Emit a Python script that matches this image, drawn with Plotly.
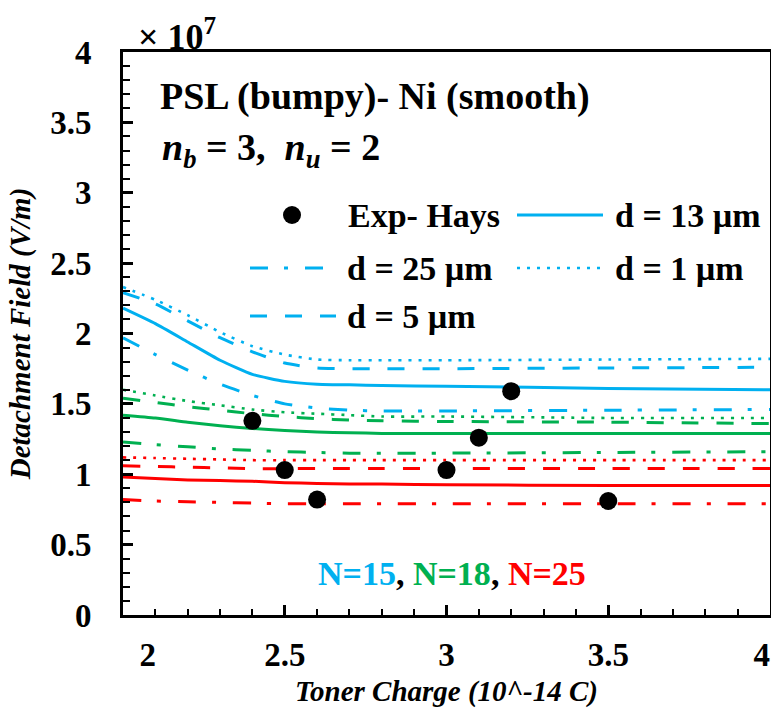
import plotly.graph_objects as go

# ---------------- data (field values in units of 10^7 V/m) ----------------
charge = [2.0, 2.1, 2.2, 2.3, 2.4, 2.5, 2.6, 2.7, 2.8, 3.0, 3.5, 4.0]

# N = 15 (blue)
n15_d13 = [2.18, 2.07, 1.94, 1.81, 1.71, 1.66, 1.64, 1.635, 1.63, 1.625, 1.61, 1.60]
n15_d25 = [1.97, 1.85, 1.74, 1.64, 1.56, 1.50, 1.47, 1.455, 1.45, 1.45, 1.455, 1.46]
n15_d1 = [2.33, 2.24, 2.13, 2.01, 1.91, 1.85, 1.815, 1.81, 1.81, 1.81, 1.815, 1.82]
n15_d5 = [2.29, 2.21, 2.09, 1.97, 1.87, 1.79, 1.755, 1.75, 1.75, 1.75, 1.755, 1.76]

# N = 18 (green)
n18_d13 = [1.42, 1.40, 1.37, 1.345, 1.325, 1.31, 1.30, 1.295, 1.29, 1.29, 1.29, 1.29]
n18_d25 = [1.23, 1.21, 1.195, 1.18, 1.17, 1.16, 1.155, 1.15, 1.15, 1.15, 1.155, 1.16]
n18_d1 = [1.60, 1.56, 1.52, 1.49, 1.46, 1.44, 1.43, 1.42, 1.41, 1.41, 1.40, 1.40]
n18_d5 = [1.54, 1.51, 1.48, 1.455, 1.43, 1.41, 1.395, 1.385, 1.38, 1.375, 1.37, 1.36]

# N = 25 (red)
n25_d13 = [0.98, 0.97, 0.96, 0.955, 0.95, 0.94, 0.935, 0.93, 0.93, 0.925, 0.92, 0.92]
n25_d25 = [0.82, 0.81, 0.805, 0.80, 0.795, 0.79, 0.79, 0.79, 0.79, 0.79, 0.79, 0.79]
n25_d1 = [1.12, 1.115, 1.11, 1.105, 1.10, 1.10, 1.10, 1.10, 1.10, 1.10, 1.10, 1.10]
n25_d5 = [1.06, 1.055, 1.05, 1.045, 1.04, 1.04, 1.04, 1.04, 1.04, 1.04, 1.04, 1.04]

# Experimental (Hays)
exp_charge = [2.4, 2.5, 2.6, 3.0, 3.1, 3.2, 3.5]
exp_field = [1.38, 1.03, 0.82, 1.03, 1.26, 1.59, 0.81]

x_ticks = [2, 2.5, 3, 3.5, 4]
x_tick_labels = ["2", "2.5", "3", "3.5", "4"]
y_ticks = [0, 0.5, 1, 1.5, 2, 2.5, 3, 3.5, 4]

# ---------------- styles ----------------
BLUE, GREEN, RED = "#00B0F0", "#00B050", "#FF0000"
DASH = {
    "d13": "solid",
    "d25": "18px,16px,4px,17px",
    "d1": "3px,7px",
    "d5": "17px,18px",
}
FONT = "Liberation Serif"
NB = "\u00a0"

W, H = 771, 718
L, R, T, B = 123, 1, 52, 103
PW, PH = W - L - R, H - T - B


def px(x):
    return (x - L) / PW


def py(y):
    return (H - B - y) / PH


fig = go.Figure()

groups = [
    (BLUE, {"d13": n15_d13, "d25": n15_d25, "d1": n15_d1, "d5": n15_d5}, "N=15"),
    (GREEN, {"d13": n18_d13, "d25": n18_d25, "d1": n18_d1, "d5": n18_d5}, "N=18"),
    (RED, {"d13": n25_d13, "d25": n25_d25, "d1": n25_d1, "d5": n25_d5}, "N=25"),
]
dlabel = {"d13": "d = 13 µm", "d25": "d = 25 µm", "d1": "d = 1 µm", "d5": "d = 5 µm"}
for color, series, nname in groups:
    for key, vals in series.items():
        fig.add_trace(go.Scatter(
            x=charge, y=vals, mode="lines",
            name=f"{dlabel[key]} ({nname})",
            line=dict(color=color, width=3 if key != "d1" else 2.6, dash=DASH[key],
                      shape="spline", smoothing=0.5),
            showlegend=False,
        ))

fig.add_trace(go.Scatter(
    x=exp_charge, y=exp_field, mode="markers", name="Exp- Hays",
    marker=dict(color="black", size=18), showlegend=False,
))

# ---------------- custom legend (layout elements) ----------------
shapes = []
annots = []
legend_rows = [
    # (symbol type, dash, x0, x1, y, label, text x)
    ("marker", None, 292, 292, 215, "Exp- Hays", 346),
    ("line", DASH["d13"], 517, 603, 215, "d = 13 µm", 613),
    ("line", DASH["d25"], 250, 323, 268, "d = 25 µm", 345),
    ("line", DASH["d1"], 517, 600, 268, "d = 1 µm", 613),
    ("line", DASH["d5"], 250, 336, 316, "d = 5 µm", 345),
]
for kind, dash, x0, x1, yy, label, tx in legend_rows:
    if kind == "marker":
        shapes.append(dict(type="circle", xref="paper", yref="paper",
                           x0=px(x0 - 9), x1=px(x0 + 9), y0=py(yy + 9), y1=py(yy - 9),
                           fillcolor="black", line=dict(width=0)))
    else:
        shapes.append(dict(type="line", xref="paper", yref="paper",
                           x0=px(x0), x1=px(x1), y0=py(yy), y1=py(yy),
                           line=dict(color=BLUE, width=3 if dash != DASH["d1"] else 2.6, dash=dash)))
    annots.append(dict(x=px(tx), y=py(yy), xref="paper", yref="paper", text=label,
                       showarrow=False, xanchor="left", yanchor="middle",
                       font=dict(family=FONT, size=34, color="black", weight="bold")))

annots += [
    dict(x=px(158), y=py(97), xref="paper", yref="paper",
         text="PSL (bumpy)- Ni (smooth)", showarrow=False, xanchor="left", yanchor="middle",
         font=dict(family=FONT, size=38, color="black", weight="bold")),
    dict(x=px(160), y=py(150), xref="paper", yref="paper",
         text="<i>n</i><sub><i>b</i></sub> = 3,  <i>n</i><sub><i>u</i></sub> = 2",
         showarrow=False, xanchor="left", yanchor="middle",
         font=dict(family=FONT, size=38, color="black", weight="bold")),
    dict(x=px(136), y=py(35), xref="paper", yref="paper",
         text="× 10<sup>7</sup>", showarrow=False, xanchor="left", yanchor="middle",
         font=dict(family=FONT, size=36, color="black", weight="bold")),
    dict(x=px(452), y=py(573), xref="paper", yref="paper",
         text=(f'<span style="color:{BLUE}">N=15</span>, '
               f'<span style="color:{GREEN}">N=18</span>, '
               f'<span style="color:{RED}">N=25</span>'),
         showarrow=False, xanchor="center", yanchor="middle",
         font=dict(family=FONT, size=34, color="black", weight="bold")),
]

fig.update_layout(
    width=W, height=H,
    margin=dict(l=L, r=R, t=T, b=B, autoexpand=False),
    paper_bgcolor="white", plot_bgcolor="white",
    showlegend=False,
    shapes=shapes, annotations=annots,
    font=dict(family=FONT, color="black"),
)

# first label sits right of the axis corner and the last one just inside the edge, as in the reference
x_tick_text = list(x_tick_labels)
x_tick_text[0] = NB * 6 + x_tick_text[0]
x_tick_text[-1] = x_tick_text[-1] + NB * 2

fig.update_xaxes(
    range=[2, 4], tickvals=x_ticks, ticktext=x_tick_text,
    ticks="inside", ticklen=10, tickwidth=2.5, tickcolor="black",
    minor=dict(ticks="inside", dtick=0.1, ticklen=6, tickwidth=2, tickcolor="black"),
    showline=True, linewidth=3, linecolor="black", mirror=True,
    showgrid=False, zeroline=False,
    tickfont=dict(family=FONT, size=33, color="black", weight="bold"),
    ticklabelstandoff=8, ticklabeloverflow="allow",
    title=dict(text="<i>Toner Charge (10^-14 C)</i>", standoff=10,
               font=dict(family=FONT, size=29, color="black", weight="bold")),
)
fig.update_yaxes(
    range=[0, 4], tickvals=y_ticks, ticktext=[f"{v:g}" for v in y_ticks],
    ticks="inside", ticklen=10, tickwidth=2.5, tickcolor="black",
    minor=dict(ticks="inside", dtick=0.1, ticklen=7, tickwidth=2, tickcolor="black"),
    showline=True, linewidth=3, linecolor="black", mirror=True,
    showgrid=False, zeroline=False,
    tickfont=dict(family=FONT, size=33, color="black", weight="bold"),
    ticklabelstandoff=22,
    title=dict(text="<i>Detachment Field (V/m)</i>", standoff=12,
               font=dict(family=FONT, size=29, color="black", weight="bold")),
)

fig.write_html("out.html")
